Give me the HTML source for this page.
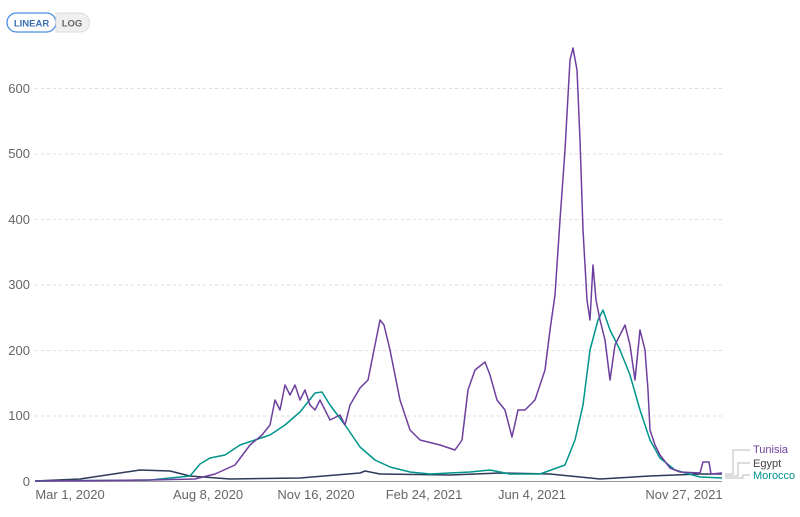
<!DOCTYPE html><html><head><style>body{margin:0;background:#fff;font-family:"Liberation Sans",sans-serif}</style></head><body>
<svg width="800" height="512" xmlns="http://www.w3.org/2000/svg" font-family="Liberation Sans, sans-serif">
<rect x="7" y="13" width="49" height="19" rx="9.5" fill="#fff" stroke="#4b8de0" stroke-width="1.3"/>
<path d="M56 13 H80 a9.5 9.5 0 0 1 0 19 H56 Z" fill="#efefef" stroke="#ddd"/>
<text x="31.5" y="26.5" font-size="9.5" font-weight="bold" fill="#3a6fb5" text-anchor="middle">LINEAR</text>
<text x="72" y="26.5" font-size="9.5" font-weight="bold" fill="#666" text-anchor="middle">LOG</text>
<g stroke="#ddd" stroke-dasharray="3,3">
<line x1="35" x2="722" y1="88.5" y2="88.5"/><line x1="35" x2="722" y1="154" y2="154"/><line x1="35" x2="722" y1="219.5" y2="219.5"/><line x1="35" x2="722" y1="285" y2="285"/><line x1="35" x2="722" y1="350.5" y2="350.5"/><line x1="35" x2="722" y1="416" y2="416"/></g>
<g font-size="13" fill="#666" text-anchor="end">
<text x="30" y="93">600</text><text x="30" y="158">500</text><text x="30" y="224">400</text><text x="30" y="289">300</text><text x="30" y="355">200</text><text x="30" y="420">100</text><text x="30" y="486">0</text></g>
<line x1="35" x2="722" y1="481.5" y2="481.5" stroke="#999"/>
<g font-size="13" fill="#666" text-anchor="middle">
<text x="70" y="499">Mar 1, 2020</text><text x="208" y="499">Aug 8, 2020</text><text x="316" y="499">Nov 16, 2020</text><text x="424" y="499">Feb 24, 2021</text><text x="532" y="499">Jun 4, 2021</text><text x="684" y="499">Nov 27, 2021</text></g>
<g fill="none" stroke-width="1.5" stroke-linejoin="round">
<polyline stroke="#2e3a59" points="35,481 80,479 120,473 140,470 170,471 190,476 230,479 300,478 360,473 365,471 380,474 450,475 500,473 550,474 600,479 650,476 700,474 722,474"/>
<polyline stroke="#00958c" points="35,481 150,480 190,476 200,464 210,458 225,455 240,445 255,440 270,435 285,425 300,412 315,393 322,392 330,405 345,425 360,447 375,460 390,467 410,472 430,474 470,472 490,470 510,474 540,474 565,465 575,440 583,405 590,350 598,320 603,310 610,330 620,350 630,375 640,410 650,440 660,458 675,470 700,477 722,478"/>
<polyline stroke="#6d3f9e" points="35,481 150,480 195,479 215,474 235,465 250,445 262,435 270,425 275,400 280,410 285,385 290,395 295,385 300,400 305,390 310,405 315,410 320,400 330,420 340,415 345,425 350,405 360,388 368,380 375,345 380,320 384,325 390,350 400,400 410,430 420,440 440,445 455,450 462,440 468,390 475,370 485,362 490,375 497,400 505,410 512,437 518,410 525,410 535,400 545,370 550,330 555,295 560,220 565,150 570,60 573,48 577,70 580,140 583,230 587,300 590,320 593,265 596,300 600,320 605,340 610,380 615,345 620,335 625,325 630,345 635,380 640,330 645,350 648,390 650,430 655,445 660,455 670,468 680,472 700,473 703,462 709,462 711,474 722,473"/>
</g>
<g stroke="#bbb" fill="none">
<polyline points="725,474 733,474 733,450 750,450"/><polyline points="725,476 738,476 738,463 750,463"/><polyline points="725,478 743,478 743,475 750,475"/></g>
<g font-size="11">
<text x="753" y="453" fill="#6d3f9e">Tunisia</text><text x="753" y="467" fill="#444">Egypt</text><text x="753" y="479" fill="#00958c">Morocco</text></g>
</svg></body></html>
